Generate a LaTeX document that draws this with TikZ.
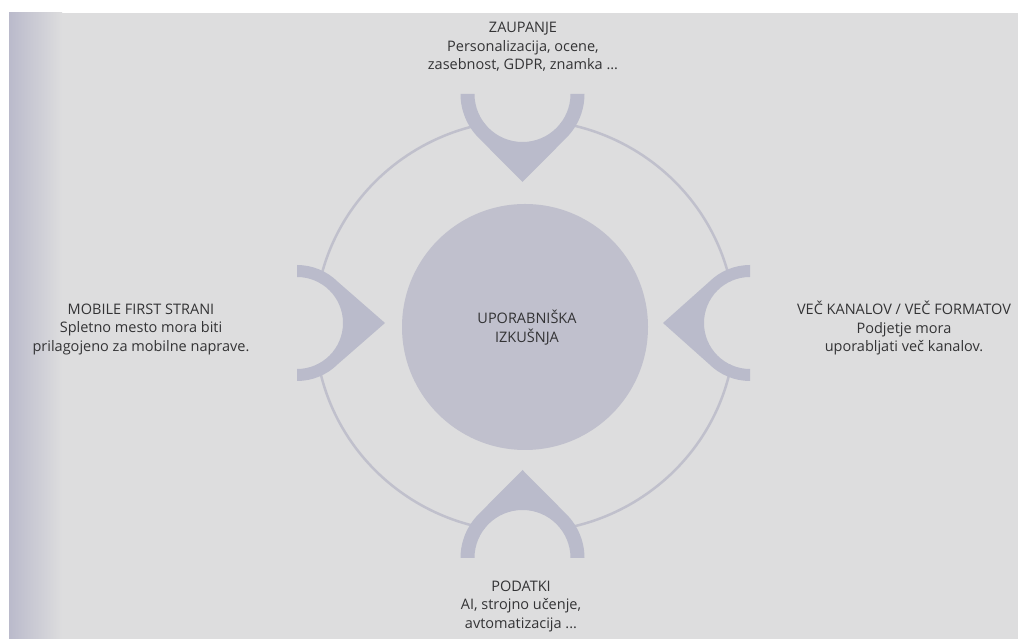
\documentclass[tikz,border=0pt]{standalone}
\usepackage{fontspec}
\setmainfont{Open Sans}
\definecolor{pagebg}{HTML}{DDDDDE}
\definecolor{edgecol}{HTML}{BABACB}
\definecolor{shapecol}{HTML}{BABBCB}
\definecolor{centercol}{HTML}{C0C0CD}
\definecolor{ringcol}{HTML}{C0C0CC}
\definecolor{txtcol}{HTML}{333335}
\tikzset{
  lbl/.style={align=center, inner sep=0pt, text=txtcol, font=\fontsize{14.5}{18.5}\selectfont},
  crescentfill/.style={fill=shapecol},
}
\newcommand{\mycrescent}[6]{% center, rotation, R, r, d
  \begin{scope}[shift={#1}, rotate=#2]
    \fill[pagebg] (-#4,0) arc[start angle=180,end angle=360,radius=#4] -- cycle;
    \fill[crescentfill] (-#3,0) arc[start angle=180,end angle=225,radius=#3]
      -- (0,-#5) -- (-45:#3) arc[start angle=-45,end angle=0,radius=#3]
      -- (#4,0) arc[start angle=0,end angle=-180,radius=#4] -- cycle;
  \end{scope}}
\begin{document}
\begin{tikzpicture}[x=1pt,y=1pt]
\useasboundingbox (0,0) rectangle (1018,639);
\fill[white] (0,0) rectangle (1018,639);
\fill[pagebg] (9,0) rectangle (1018,626);
\shade[left color=edgecol, right color=pagebg] (9,0) rectangle (62,626);
% ring
\draw[ringcol, line width=2.5pt] (525,313) ellipse [x radius=210, y radius=206];
% centre disc
\fill[centercol] (525,312) circle[radius=123];
\node[lbl] (center) at (527,311.5) {UPORABNIŠKA\\IZKUŠNJA};
% crescents
\mycrescent{(522.5,545)}{0}{62}{48}{88}{}
\mycrescent{(522.5,81)}{180}{62}{48}{88}{}
\mycrescent{(297,316)}{90}{58}{46}{88}{}
\mycrescent{(750,316)}{-90}{58}{46}{87}{}
% labels
\node[lbl] (top) at (523,592) {ZAUPANJE\\Personalizacija, ocene,\\zasebnost, GDPR, znamka ...};
\node[lbl] (left) at (141,310) {MOBILE FIRST STRANI\\Spletno mesto mora biti\\prilagojeno za mobilne naprave.};
\node[lbl] (right) at (904,311) {VEČ KANALOV / VEČ FORMATOV\\Podjetje mora\\uporabljati več kanalov.};
\node[lbl] (bottom) at (521,33) {PODATKI\\AI, strojno učenje,\\avtomatizacija ...};
\end{tikzpicture}
\end{document}
